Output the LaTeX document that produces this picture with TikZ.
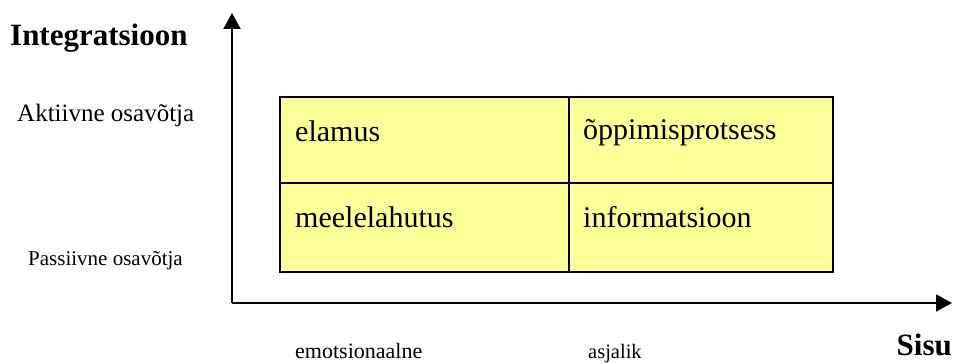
\documentclass[tikz,border=0pt]{standalone}
\usepackage{fontspec}
\setmainfont{Liberation Serif}
\usetikzlibrary{arrows.meta,calc}
\definecolor{cellyellow}{HTML}{FFFF99}
\tikzset{
  axis/.style={line width=2pt, -{Triangle[length=16pt,width=17pt]}},
  cell/.style={draw, line width=2.4pt, fill=cellyellow, inner sep=0pt},
  celltext/.style={anchor=base west, inner sep=0pt, font=\fontsize{30}{36}\selectfont},
  axistitle/.style={inner sep=0pt, font=\fontsize{31}{37}\selectfont\bfseries},
  levellabel/.style={anchor=base west, inner sep=0pt},
}
\begin{document}
\begin{tikzpicture}[x=1pt,y=1pt]
  \useasboundingbox (0,0) rectangle (954,362);

  % axes
  \coordinate (origin) at (232,59);
  \coordinate (ytip) at (232,349);
  \coordinate (xtip) at (952,59);
  \draw[axis] (origin) -- (ytip);
  \draw[axis] (origin) -- (xtip);

  % the four cells of the matrix
  \node[cell, minimum width=289pt, minimum height=86pt, anchor=north west] (c11) at (279,266) {};
  \node[cell, minimum width=264pt, minimum height=86pt, anchor=north west] (c12) at (568,266) {};
  \node[cell, minimum width=289pt, minimum height=89pt, anchor=north west] (c21) at (279,180) {};
  \node[cell, minimum width=264pt, minimum height=89pt, anchor=north west] (c22) at (568,180) {};

  \node[celltext] (t11) at ($(c11.north west)+(16,-46)$) {elamus};
  \node[celltext] (t12) at ($(c12.north west)+(15,-44)$) {õppimisprotsess};
  \node[celltext] (t21) at ($(c21.north west)+(16,-46)$) {meelelahutus};
  \node[celltext] (t22) at ($(c22.north west)+(15,-45)$) {informatsioon};

  % axis titles
  \node[axistitle, anchor=base west] (ytitle) at (10,316) {Integratsioon};
  \node[axistitle, anchor=base east] (xtitle) at (952,7) {Sisu};

  % level labels
  \node[levellabel, font=\fontsize{25}{30}\selectfont] (active) at (17,240) {Aktiivne osavõtja};
  \node[levellabel, font=\fontsize{21}{25}\selectfont] (passive) at (28,96) {Passiivne osavõtja};
  \node[levellabel, font=\fontsize{22}{26}\selectfont] (emo) at (295,4) {emotsionaalne};
  \node[levellabel, font=\fontsize{20.5}{25}\selectfont] (fact) at (588,4) {asjalik};
\end{tikzpicture}
\end{document}
